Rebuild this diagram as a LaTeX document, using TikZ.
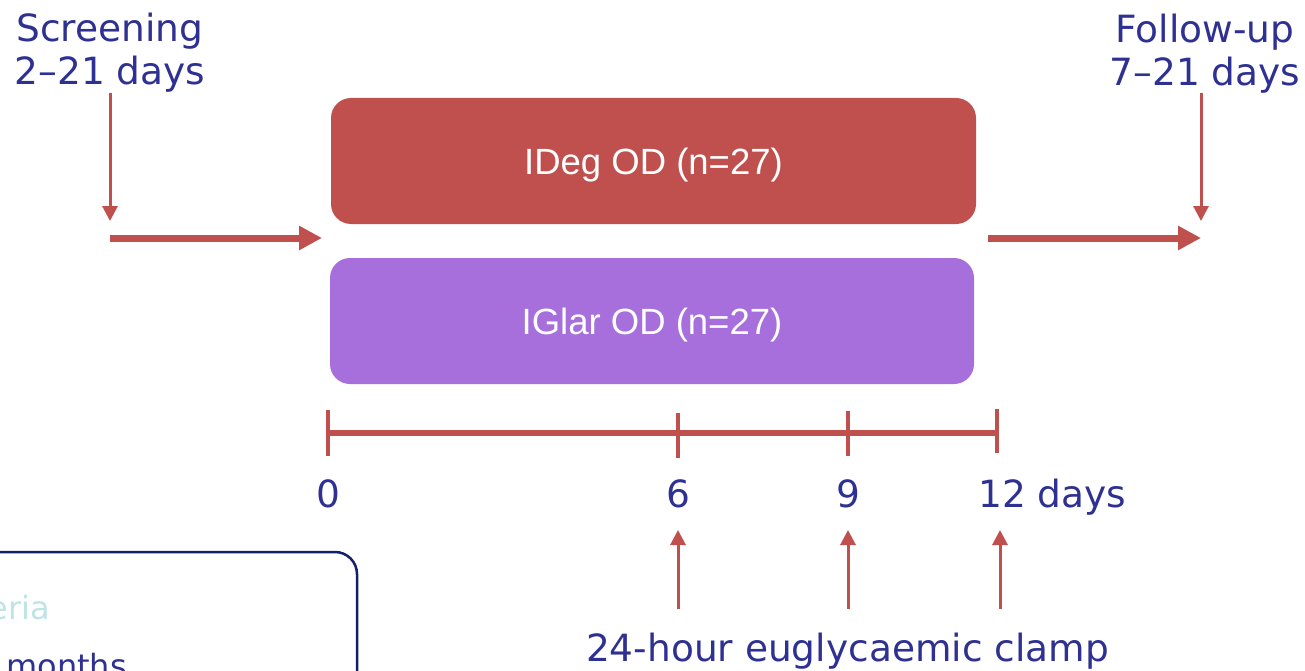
\documentclass[tikz,border=0pt]{standalone}
\usepackage{fontspec}
\setmainfont{DejaVu Sans}
\newfontfamily\armfont{Liberation Sans}
\usetikzlibrary{arrows.meta}
\definecolor{navytext}{HTML}{2E3192}
\definecolor{armred}{HTML}{C0504D}
\definecolor{armpurple}{HTML}{A66FDC}
\definecolor{boxnavy}{HTML}{13216A}
\definecolor{paleteal}{HTML}{BFE4E6}

\begin{document}
\begin{tikzpicture}[x=1pt,y=-1pt,
  lbl/.style={text=navytext,font=\fontsize{37.5}{43}\selectfont,align=center,inner sep=0pt},
  smalllbl/.style={font=\fontsize{32}{38}\selectfont,inner sep=0pt},
  arm/.style={rounded corners=20pt,minimum width=645pt,minimum height=126pt,
              text height=27pt,text depth=0pt,
              text=white,font=\armfont\fontsize{36.5}{44}\selectfont},
  thinarrow/.style={draw=armred,line width=3pt,-{Triangle[length=15pt,width=15pt]}},
  thickarrow/.style={draw=armred,line width=7pt,-{Triangle[length=23pt,width=23pt]}},
  tickmark/.style={draw=armred,line width=4pt},
]
\clip (0,0) rectangle (1305,671);

% phase labels
\node[lbl] (scr) at (110,53) {Screening\\2–21 days};
\node[lbl] (fu) at (1205,54) {Follow-up\\7–21 days};

% treatment arms
\node[arm,fill=armred] (ideg) at (653.5,161) {IDeg OD (n=27)};
\node[arm,fill=armpurple,minimum width=644pt] (iglar) at (652,321) {IGlar OD (n=27)};

% screening / follow-up arrows
\coordinate (scrtip) at (110,221);
\coordinate (futip) at (1201,221);
\coordinate (inL) at (110,238);
\coordinate (inR) at (322,238);
\coordinate (outL) at (988,238);
\coordinate (outR) at (1201,238);
\draw[thinarrow] (scr.south |- 0,93) -- (scrtip);
\draw[thinarrow] (futip |- 0,93) -- (futip);
\draw[thickarrow] (inL) -- (inR);
\draw[thickarrow] (outL) -- (outR);

% timeline
\coordinate (t0) at (328,433);
\coordinate (t6) at (678,433);
\coordinate (t9) at (848,433);
\coordinate (t12) at (997,433);
\draw[armred,line width=6pt] (t0) -- (t12);
\draw[tickmark] (328,410) -- (328,456);
\draw[tickmark] (678,413) -- (678,458);
\draw[tickmark] (848,411) -- (848,456);
\draw[tickmark] (997,409) -- (997,453);

\node[lbl,anchor=base] (l0) at (328,507) {0};
\node[lbl,anchor=base] (l6) at (678,507) {6};
\node[lbl,anchor=base] (l9) at (848,507) {9};
\node[lbl,anchor=base west] (l12) at (978,507) {12 days};

% clamp arrows
\node[lbl,anchor=base] (clamp) at (847.5,661) {24-hour euglycaemic clamp};
\coordinate (c6) at (678,609);
\coordinate (c9) at (848,609);
\coordinate (c12) at (1000,609);
\draw[thinarrow] (c6) -- (678,530);
\draw[thinarrow] (c9) -- (848,530);
\draw[thinarrow] (c12) -- (1000,530);

% criteria panel
\draw[boxnavy,line width=2.5pt,rounded corners=22pt] (-40,552) rectangle (357,740);
\node[smalllbl,text=paleteal,anchor=base east] (crit) at (50,619) {eria};
\node[smalllbl,text=navytext,anchor=base east] (months) at (127,677) {months};
\end{tikzpicture}
\end{document}
